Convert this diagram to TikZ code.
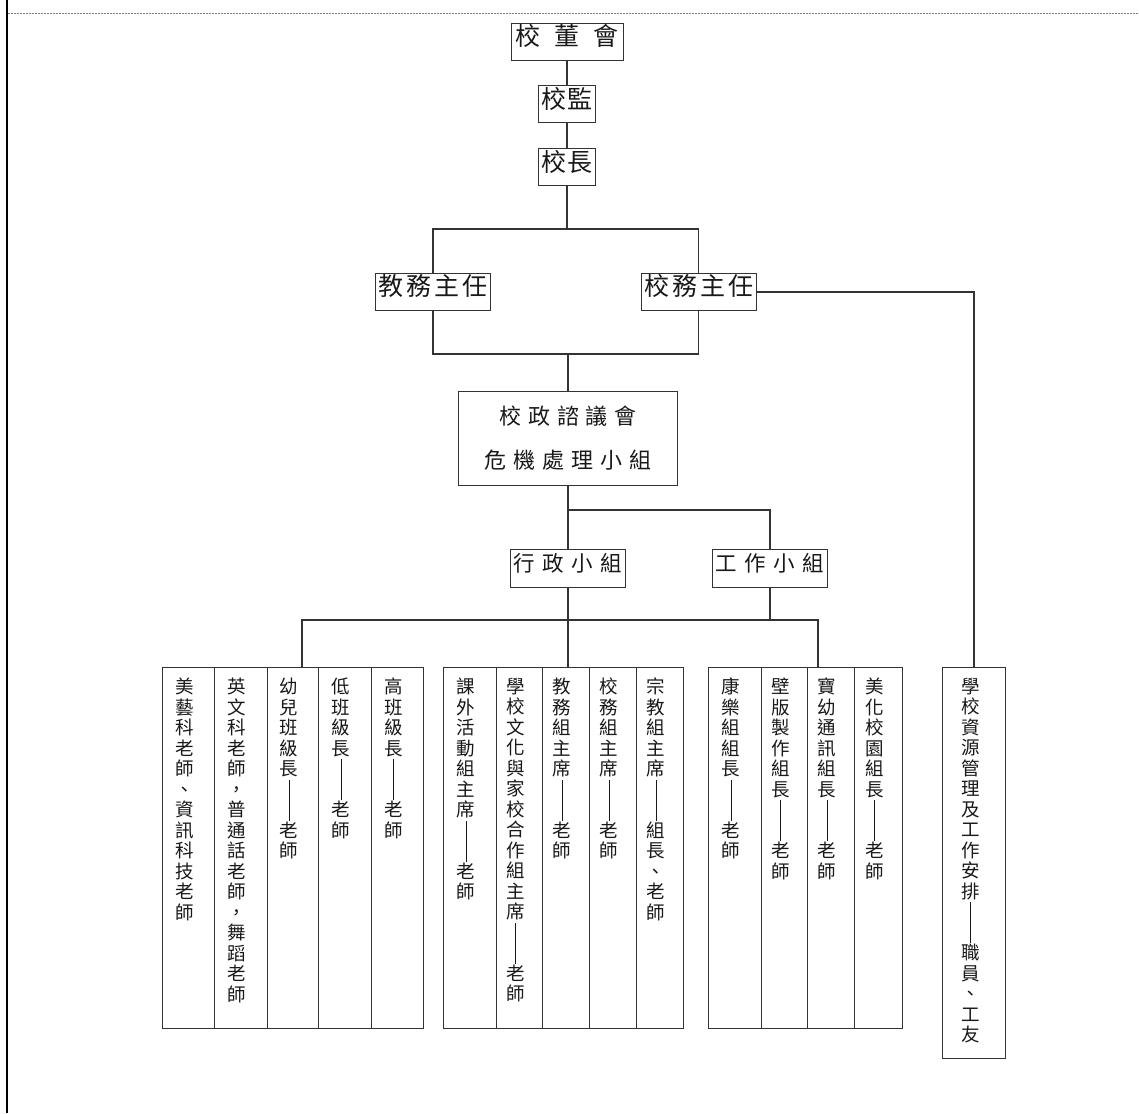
\documentclass[tikz,border=0pt]{standalone}
\usepackage{fontspec}
\setmainfont{Noto Sans CJK TC}
\usetikzlibrary{positioning}

% vertical text in a column, one character per line; | gives one slot of the dash
\def\vchars#1{\ifx#1\relax\else\ifx#1|\rule[-4pt]{0.9pt}{20.5pt}\else#1\fi\par\expandafter\vchars\fi}
\newcommand\vtext[3][361pt]{\parbox[c][#1][t]{#2}{\centering\rightskip=7pt plus 1fil\vspace*{11pt}\vchars#3\relax}}
% horizontal text with a fixed gap between the characters
\newcommand\spaced[2]{\def\spacedgap{#1}\spacedfirst#2\relax}
\def\spacedfirst#1{#1\spacedrest}
\def\spacedrest#1{\ifx#1\relax\else\hspace{\spacedgap}#1\expandafter\spacedrest\fi}

\begin{document}
\begin{tikzpicture}[
        x=1pt, y=-1pt,
        every node/.style={align=center, text=black!90},
        topbox/.style={rectangle, draw=black!80, line width=0.9pt, font=\fontsize{25}{29}\selectfont, minimum height=37pt, inner xsep=3pt, text height=0.88em, text depth=0.12em},
        teambox/.style={topbox, font=\fontsize{21.5}{25}\selectfont, minimum height=38pt},
        councilbox/.style={rectangle, draw=black!80, line width=0.9pt, font=\fontsize{22}{44}\selectfont, minimum width=219pt, minimum height=94pt},
        colbox/.style={rectangle, draw=black!80, line width=0.9pt, inner sep=0pt, outer sep=0pt, font=\fontsize{18.5}{20.5}\selectfont},
        link/.style={draw=black!80, line width=1.3pt}
    ]
    \useasboundingbox (0,0) rectangle (1139,1113);

    % page frame
    \draw [line width=2pt] (7,0) -- (7,1113);
    \draw [gray, line width=1pt, dash pattern=on 2pt off 1pt] (8,14) -- (1139,14);

    % Nodes
    \node (board) [topbox, minimum width=112pt] at (567,41.5) {\spaced{14pt}{校董會}};
    \node (supervisor) [topbox, minimum width=57pt, below=25pt of board] {\spaced{1pt}{校監}};
    \node (principal) [topbox, minimum width=57pt, below=25pt of supervisor] {\spaced{1pt}{校長}};

    \node (studies) [topbox, minimum width=113pt] at (433,292) {\spaced{3pt}{教務主任}};
    \node (affairs) [topbox, minimum width=111pt] at (698.5,292) {\spaced{3pt}{校務主任}};

    \node (council) [councilbox] at (568,438) {\spaced{7pt}{校政諮議會}\\\spaced{7pt}{危機處理小組}};

    \node (adminteam) [teambox, minimum width=112pt] at (568,568) {\spaced{7.5pt}{行政小組}};
    \node (workteam) [teambox, minimum width=114pt] at (770,568) {\spaced{7.5pt}{工作小組}};

    % teachers
    \node (art) [colbox, anchor=north west] at (162,667) {\vtext{52pt}{美藝科老師、資訊科技老師}};
    \node (lang) [colbox, right=0pt of art] {\vtext{53pt}{英文科老師，普通話老師，舞蹈老師}};
    \node (kinder) [colbox, right=0pt of lang] {\vtext{51pt}{幼兒班級長||老師}};
    \node (lowform) [colbox, right=0pt of kinder] {\vtext{53pt}{低班級長||老師}};
    \node (highform) [colbox, right=0pt of lowform] {\vtext{52pt}{高班級長||老師}};

    % committee chairs
    \node (extra) [colbox, anchor=north west] at (443,667) {\vtext{53pt}{課外活動組主席||老師}};
    \node (culture) [colbox, right=0pt of extra] {\vtext{46pt}{學校文化與家校合作組主席||老師}};
    \node (academic) [colbox, right=0pt of culture] {\vtext{47pt}{教務組主席||老師}};
    \node (school) [colbox, right=0pt of academic] {\vtext{47pt}{校務組主席||老師}};
    \node (religion) [colbox, right=0pt of school] {\vtext{47pt}{宗教組主席||組長、老師}};

    % working groups
    \node (recreation) [colbox, anchor=north west] at (708,667) {\vtext{53pt}{康樂組組長||老師}};
    \node (wallboard) [colbox, right=0pt of recreation] {\vtext{46pt}{壁版製作組長||老師}};
    \node (newsletter) [colbox, right=0pt of wallboard] {\vtext{47pt}{寶幼通訊組長||老師}};
    \node (campus) [colbox, right=0pt of newsletter] {\vtext{48pt}{美化校園組長||老師}};

    \node (resources) [colbox, anchor=north west] at (942.5,667) {\vtext[391pt]{63pt}{學校資源管理及工作安排||職員、工友}};

    % Lines
    \coordinate (upper) at (0,229);
    \coordinate (lower) at (0,354);
    \coordinate (middle) at (0,510);
    \coordinate (ldrop) at (302,620);
    \coordinate (rdrop) at (818,620);

    \draw [link] (board) -- (supervisor);
    \draw [link] (supervisor) -- (principal);
    \draw [link] (principal.south) -- (principal.south |- upper);
    \draw [link] (studies.north) |- (affairs.north |- upper) -- (affairs.north);
    \draw [link] (studies.south) |- (affairs.south |- lower) -- (affairs.south);
    \draw [link] (council.north) -- (council.north |- lower);
    \draw [link] (council.south) -- (adminteam.north);
    \draw [link] (council.south |- middle) -| (workteam.north);
    \draw [link] (adminteam.south) -- (adminteam.south |- academic.north);
    \draw [link] (workteam.south) -- (workteam.south |- ldrop);
    \draw [link] (ldrop |- kinder.north) -- (ldrop) -- (rdrop) -- (rdrop |- recreation.north);
    \draw [link] (affairs.east) -| (resources.north);

\end{tikzpicture}
\end{document}
